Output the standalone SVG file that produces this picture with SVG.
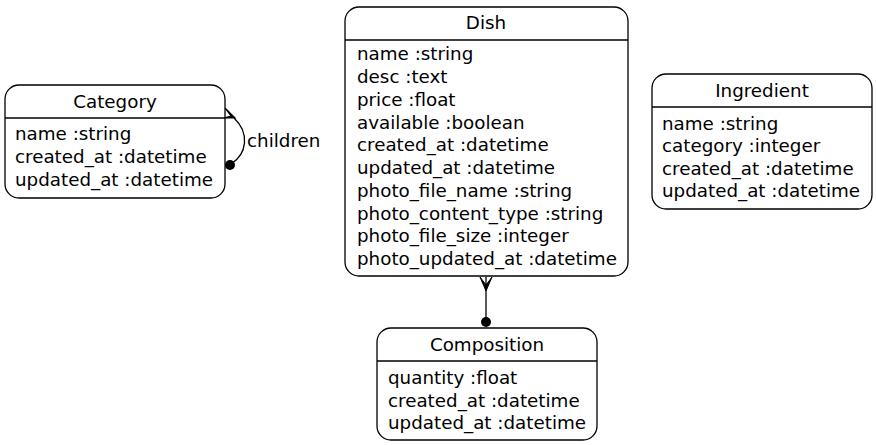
<svg xmlns="http://www.w3.org/2000/svg" width="876" height="445" viewBox="0 0 876 445">
<style>
.box{fill:#fff;stroke:#000;stroke-width:1.3}
.sep{stroke:#000;stroke-width:1.3}
text{font-family:"DejaVu Sans",sans-serif;font-size:18.3px;fill:#000}
.t{text-anchor:middle}
.edge{fill:none;stroke:#000;stroke-width:1.3}
</style>
<rect width="876" height="445" fill="#fff"/>
<g id="connectors">
<path class="edge" d="M231,164 C247,154 250,133 234,118"/>
<path d="M225,108 L235,118 L224,118 L231,116 Z" fill="#000" stroke="#000" stroke-width="1.2" stroke-linejoin="miter"/>
<circle cx="230" cy="165" r="5" fill="#000"/>
<text x="247" y="147">children</text>
<line class="edge" x1="486" y1="277" x2="486" y2="318"/>
<path d="M480,277 L486,291 L492,277 L486,285 Z" fill="#000" stroke="#000" stroke-width="1"/>
<circle cx="486" cy="322" r="5" fill="#000"/>
</g>
<g id="node-category">
<rect class="box" x="5" y="85" width="220" height="113" rx="14"/>
<line class="sep" x1="5" y1="118" x2="225" y2="118"/>
<text class="t" x="115" y="108">Category</text>
<text x="15" y="140">name :string</text>
<text x="15" y="163">created_at :datetime</text>
<text x="15" y="186">updated_at :datetime</text>
</g>
<g id="node-dish">
<rect class="box" x="345" y="7" width="283" height="269" rx="14"/>
<line class="sep" x1="345" y1="40" x2="628" y2="40"/>
<text class="t" x="486" y="29">Dish</text>
<text x="357" y="60">name :string</text>
<text x="357" y="83">desc :text</text>
<text x="357" y="106">price :float</text>
<text x="357" y="129">available :boolean</text>
<text x="357" y="151">created_at :datetime</text>
<text x="357" y="174">updated_at :datetime</text>
<text x="357" y="197">photo_file_name :string</text>
<text x="357" y="220">photo_content_type :string</text>
<text x="357" y="242">photo_file_size :integer</text>
<text x="357" y="265">photo_updated_at :datetime</text>
</g>
<g id="node-ingredient">
<rect class="box" x="652" y="74" width="220" height="135" rx="14"/>
<line class="sep" x1="652" y1="107" x2="872" y2="107"/>
<text class="t" x="762" y="97">Ingredient</text>
<text x="662" y="130">name :string</text>
<text x="662" y="152">category :integer</text>
<text x="662" y="175">created_at :datetime</text>
<text x="662" y="197">updated_at :datetime</text>
</g>
<g id="node-composition">
<rect class="box" x="377" y="328" width="220" height="112" rx="14"/>
<line class="sep" x1="377" y1="361" x2="597" y2="361"/>
<text class="t" x="487" y="351">Composition</text>
<text x="388" y="384">quantity :float</text>
<text x="388" y="407">created_at :datetime</text>
<text x="388" y="429">updated_at :datetime</text>
</g>
</svg>
